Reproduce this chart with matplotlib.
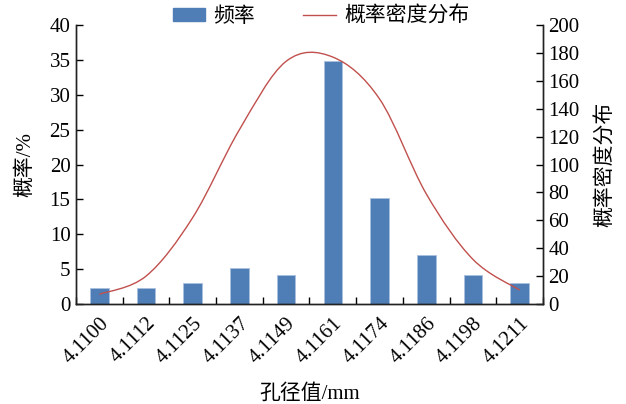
import numpy as np
import matplotlib
matplotlib.use("Agg")
from matplotlib import pyplot as plt
from matplotlib.path import Path
from matplotlib.patches import PathPatch
from matplotlib.lines import Line2D
from matplotlib.patches import Patch

plt.rcParams['font.family'] = ['Liberation Serif', 'Noto Sans CJK SC']
plt.rcParams['font.size'] = 15

# data
categories = ["4.1100", "4.1112", "4.1125", "4.1137", "4.1149",
              "4.1161", "4.1174", "4.1186", "4.1198", "4.1211"]
frequency = [2.25, 2.25, 3.05, 5.15, 4.15, 34.85, 15.15, 7.0, 4.1, 3.05]
density = [7, 20, 62, 125, 174, 177, 147, 79, 32, 10]

bar_color = "#4F7DB5"
line_color = "#C0504D"

fig = plt.figure(figsize=(6.26, 4.04), dpi=100)
ax = fig.add_axes([0.1214, 0.2475, 0.746, 0.6906])
ax2 = ax.twinx()

x = np.arange(len(categories))
ax.bar(x, frequency, width=0.4, color=bar_color, edgecolor="#A9C0DE", linewidth=0.6, zorder=2)

# smooth line through the points (Catmull-Rom as Bezier segments, like Excel smoothing)
pts = np.column_stack([x, density]).astype(float)
ext = np.vstack([pts[0], pts, pts[-1]])
verts = [tuple(pts[0])]
codes = [Path.MOVETO]
for i in range(len(pts) - 1):
    p0, p1, p2, p3 = ext[i], ext[i + 1], ext[i + 2], ext[i + 3]
    c1 = p1 + (p2 - p0) / 6.0
    c2 = p2 - (p3 - p1) / 6.0
    verts += [tuple(c1), tuple(c2), tuple(p2)]
    codes += [Path.CURVE4, Path.CURVE4, Path.CURVE4]
ax2.add_patch(PathPatch(Path(verts, codes), facecolor="none", edgecolor=line_color,
                        linewidth=1.0, zorder=3))

ax.set_xlim(-0.5, len(categories) - 0.5)
ax.set_ylim(0, 40)
ax2.set_ylim(0, 200)
ax.set_yticks(range(0, 41, 5))
ax2.set_yticks(range(0, 201, 20))

# category ticks on boundaries, labels at centres
ax.set_xticks(np.arange(-0.5, len(categories), 1.0))
ax.set_xticklabels([])
ax.set_xticks(x, minor=True)
ax.set_xticklabels(categories, minor=True, rotation=45, ha="right", va="top",
                   rotation_mode="anchor")
ax.tick_params(axis="x", which="minor", length=0, pad=7)
ax.tick_params(axis="x", which="major", direction="in", length=5, width=1)
ax.tick_params(axis="y", direction="in", length=5, width=1, pad=4)
ax2.tick_params(axis="y", direction="in", length=5, width=1, pad=4)

for a in (ax, ax2):
    a.spines["top"].set_visible(False)
    for s in ("left", "right", "bottom"):
        a.spines[s].set_linewidth(1.0)
        a.spines[s].set_color("#222222")

ax.set_xlabel("孔径值/mm", labelpad=12)
ax.set_ylabel("概率/%", labelpad=10)
ax2.set_ylabel("概率密度分布", labelpad=12)

handles = [Patch(facecolor=bar_color, edgecolor=bar_color),
           Line2D([0], [0], color=line_color, linewidth=1.0)]
fig.legend(handles, ["频率", "概率密度分布"], ncol=2, frameon=False,
           loc="center", bbox_to_anchor=(0.513, 0.958),
           handlelength=1.55, handleheight=0.6, handletextpad=0.4, columnspacing=2.3)

fig.savefig("out.png", dpi=100)
